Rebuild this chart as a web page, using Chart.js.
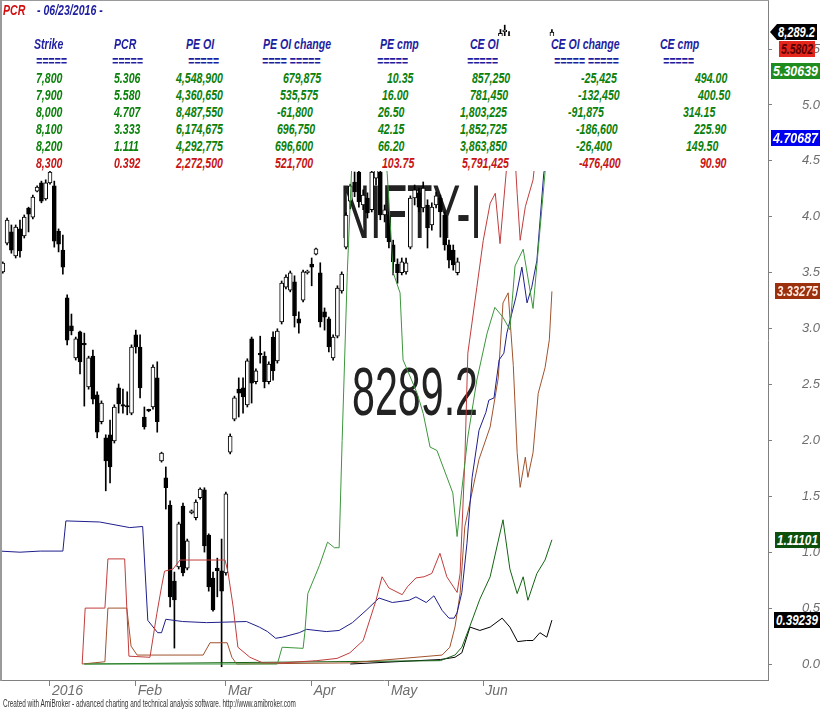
<!DOCTYPE html>
<html>
<head>
<meta charset="utf-8">
<title>PCR - NIFTY-I</title>
<script src="https://cdn.jsdelivr.net/npm/chart.js@4.4.1/dist/chart.umd.min.js"></script>
<style>
html,body{margin:0;padding:0;background:#fff;}
#wrap{position:relative;width:820px;height:711px;overflow:hidden;background:#fff;}
#chart{position:absolute;left:0;top:0;}
.wm{position:absolute;white-space:nowrap;font-family:'Liberation Sans',Arial,sans-serif;color:#222;line-height:1;transform-origin:0 0;}
#mask{position:absolute;left:2px;top:36px;width:766px;height:135px;background:#fff;}
.tx{position:absolute;white-space:nowrap;font-family:'Liberation Sans Narrow','Arial Narrow','Liberation Sans',sans-serif;font-weight:bold;font-style:italic;font-size:14px;line-height:14px;transform-origin:0 50%;}
.badge{position:absolute;height:16px;line-height:16px;overflow:hidden;white-space:nowrap;box-sizing:border-box;}
.badge span{display:inline-block;font-family:'Liberation Sans Narrow','Arial Narrow','Liberation Sans',sans-serif;font-weight:bold;font-style:italic;font-size:15px;transform-origin:0 50%;}
#frameL{position:absolute;left:0;top:0;width:2px;height:681px;background:#9a9a9a;}
#frameT{position:absolute;left:0;top:0;width:769px;height:1px;background:#9a9a9a;}
#footer{position:absolute;left:3px;top:699px;white-space:nowrap;font-family:'Liberation Sans Narrow','Arial Narrow','Liberation Sans',sans-serif;font-size:10px;line-height:10px;color:#333;transform-origin:0 0;}
</style>
</head>
<body>
<div id="wrap">
  <div id="wm1" class="wm">NIFTY-I</div>
  <div id="wm2" class="wm">8289.2</div>
  <canvas id="chart" width="820" height="711"></canvas>
  <div id="mask"></div>
  <div id="table"></div>
  <div id="badges"></div>
  <div id="frameL"></div>
  <div id="frameT"></div>
  <div id="footer">Created with AmiBroker - advanced charting and technical analysis software. http://www.amibroker.com</div>
</div>
<script>
// ---------------- DATA ----------------
const reportDate = '06/23/2016';
const symbolName = 'NIFTY-I';
const lastPrice = 8289.2;

// option table
const strikes    = [7800, 7900, 8000, 8100, 8200, 8300];
const pcrTable   = [5.306, 5.580, 4.707, 3.333, 1.111, 0.392];
const peOI       = [4548900, 4360650, 8487550, 6174675, 4292775, 2272500];
const peOIChange = [679875, 535575, -61800, 696750, 696600, 521700];
const peCmp      = [10.35, 16.00, 26.50, 42.15, 66.20, 103.75];
const ceOI       = [857250, 781450, 1803225, 1852725, 3863850, 5791425];
const ceOIChange = [-25425, -132450, -91875, -186600, -26400, -476400];
const ceCmp      = [494.00, 400.50, 314.15, 225.90, 149.50, 90.90];
const lastPcr    = [5.30639, 5.5802, 4.70687, 3.33275, 1.11101, 0.39239];

// x axis: trading-day index (0 = 1 Jan 2016)
const monthTickDays = [0, 20, 41, 61, 79, 101];
const monthLabels   = ['2016', 'Feb', 'Mar', 'Apr', 'May', 'Jun'];
const pcrTicks = [0, 0.5, 1, 1.5, 2, 2.5, 3, 3.5, 4, 4.5, 5, 5.5];

// NIFTY-I candles
const candleDay = [
 -11,-10,-9,-8,-7,-6,-5,-4,-3,-2,
 -1,0,1,2,3,4,5,6,7,8,
 9,10,11,12,13,14,15,16,17,18,
 19,20,21,22,23,24,25,26,27,28,
 29,30,31,32,33,34,35,36,37,38,
 39,40,41,42,43,44,45,46,47,48,
 49,50,51,52,53,54,55,56,57,58,
 59,60,61,62,63,64,65,66,67,68,
 69,70,71,72,73,74,75,76,77,78,
 79,80,81,82,83,84,85,86,87,88,
 89,90,91,92,93,94,95,
 101,102,103,104,105,106,107,108,109,110,
 111,112,113,114,115,116,117];
const candleOpen = [
 7737,7803,7829,7774,7836,7820,7884,7863,7923,7942,
 7905,7942,7935,7831,7787,7677,7613,7539,7599,7571,
 7472,7543,7454,7392,7355,7362,7348,7470,7431,7428,
 7412,7592,7564,7403,7419,7426,7493,7302,7263,7200,
 7025,7058,7198,7055,7182,7171,7217,7235,7131,7032,
 7055,7049,7044,7322,7398,7467,7470,7431,7583,7484,
 7548,7543,7484,7587,7532,7622,7702,7695,7714,7629,
 7672,7735,7755,7778,7735,7645,7629,7539,7589,7693,
 7794,7900,7944,7967,7891,7907,7880,7953,7967,7868,
 7868,7799,7755,7735,7737,7794,7907,7919,7884,7891,
 7845,7891,7907,7868,7799,7787,7735,
 8180,8190,8250,8240,8230,8290,8280,8200,8130,8120,
 8140,8210,8180,8090,8250,8240,8220];
const candleHigh = [
 7760,7861,7845,7845,7856,7868,7886,7914,7935,7946,
 7949,7972,7946,7836,7822,7684,7640,7587,7601,7596,
 7543,7557,7461,7440,7362,7396,7431,7479,7467,7461,
 7569,7603,7592,7426,7421,7523,7530,7322,7288,7210,
 7046,7161,7205,7122,7189,7212,7240,7240,7134,7046,
 7078,7122,7230,7364,7451,7493,7493,7537,7587,7514,
 7589,7553,7530,7599,7606,7716,7730,7739,7728,7645,
 7741,7741,7769,7792,7758,7654,7633,7592,7705,7737,
 7873,7939,7967,7972,7926,7919,7976,7983,7976,7891,
 7875,7810,7767,7769,7769,7912,7937,7930,7944,7903,
 7896,7921,7914,7875,7810,7799,7769,
 8230,8240,8270,8250,8295,8305,8290,8220,8150,8150,
 8230,8230,8210,8260,8270,8260,8295];
const candleLow = [
 7734,7799,7780,7769,7771,7815,7829,7859,7921,7896,
 7902,7939,7794,7783,7732,7569,7592,7534,7502,7428,
 7467,7433,7355,7387,7233,7251,7343,7412,7412,7408,
 7408,7550,7447,7375,7415,7421,7368,7299,7191,6966,
 6871,7053,7037,7051,7180,7166,7214,7092,7002,6956,
 6989,6828,7039,7318,7394,7403,7412,7426,7435,7479,
 7527,7470,7479,7488,7527,7617,7698,7691,7610,7596,
 7668,7732,7705,7776,7610,7603,7553,7534,7585,7688,
 7790,7882,7910,7886,7880,7861,7875,7937,7857,7852,
 7792,7730,7711,7730,7732,7790,7891,7875,7875,7792,
 7833,7884,7817,7787,7746,7741,7730,
 8160,8170,8215,8200,8225,8265,8210,8170,8100,8100,
 8130,8130,8160,8080,8220,8200,8215];
const candleClose = [
 7757,7856,7787,7840,7785,7863,7870,7909,7932,7900,
 7942,7967,7808,7801,7748,7580,7601,7583,7530,7569,
 7539,7444,7368,7435,7302,7288,7426,7433,7428,7426,
 7564,7564,7470,7380,7417,7518,7392,7320,7240,6989,
 6982,7157,7044,7118,7187,7207,7237,7106,7012,6959,
 7049,7002,7226,7359,7447,7458,7449,7532,7481,7509,
 7546,7484,7525,7509,7601,7711,7725,7735,7636,7619,
 7737,7739,7748,7790,7622,7633,7564,7587,7700,7732,
 7868,7935,7921,7898,7914,7873,7967,7976,7868,7880,
 7806,7760,7735,7760,7758,7907,7926,7886,7930,7838,
 7886,7912,7875,7799,7764,7753,7760,
 8200,8238,8240,8221,8286,8293,8223,8190,8130,8128,
 8226,8161,8190,8258,8239,8223,8289.2];

// PCR per strike: [trading-day index, PCR]
const pcr7800 = [[8,0],[53,0],[54.1,0.15],[59,0.14],[59.4,0.28],[60.1,0.63],[62.8,0.88],[64.7,1.09],[66.3,1.04],[67.4,1.04],[68.1,2.0],[69.3,3.5],[70.5,4.6],[72,4.9],[77,4.9],[78.6,4.39],[80,3.5],[81.6,3.32],[82.3,2.72],[85.6,2.42],[87,2.24],[88.6,1.94],[90.2,1.91],[93.9,1.53],[94.9,1.14],[96,1.56],[97.4,2.03],[99.5,2.54],[101.9,2.96],[103.7,3.19],[105.6,3.10],[107.2,2.99],[108.4,3.56],[110.3,3.71],[112.6,3.18],[115.4,4.4],[117,5.30639]];
const pcr7900 = [[7.5,0],[8.2,0.5],[12.8,0.5],[13.5,0.94],[17.4,0.94],[18.4,0.07],[23.3,0.06],[24.9,0.45],[26,0.69],[26.7,0.83],[28.7,0.85],[30.3,0.93],[40.8,0.93],[41.5,0.82],[42.7,0.51],[43.8,0.15],[46.6,0.06],[49.6,0.01],[54.3,0.01],[62.2,0.03],[66.9,0.05],[69.9,0.10],[73,0.21],[76,0.57],[77.4,0.78],[79,0.68],[82.1,0.62],[83.3,0.69],[85.3,0.77],[87.2,0.78],[89,0.81],[90.9,0.99],[92.5,0.78],[94.9,0.64],[95.6,0.81],[96.7,1.82],[97.4,2.78],[99.5,3.37],[101,3.79],[102.6,4.12],[103.8,4.21],[104.9,3.76],[106.8,4.6],[108,4.8],[108.9,4.21],[109.6,3.79],[110.8,4.09],[112.6,4.33],[114.2,4.9],[116,5.3],[117,5.5802]];
const pcr8000 = [[-11.7,1.01],[-7,1.0],[-2.3,1.01],[3,1.01],[3.7,1.28],[11.6,1.27],[18.6,1.22],[21.6,1.23],[22.8,0.39],[25.1,0.28],[26,0.28],[27,0.40],[30.9,0.38],[36.5,0.37],[45.8,0.38],[48.8,0.33],[50.7,0.29],[52.6,0.23],[54.2,0.24],[58.1,0.28],[59.8,0.31],[64.4,0.29],[67.4,0.30],[70.5,0.37],[73.7,0.48],[76.7,0.59],[79.8,0.55],[83.7,0.57],[85.3,0.60],[87.7,0.55],[89.5,0.61],[91.4,0.48],[93,0.41],[94.2,0.41],[94.9,0.46],[96,0.64],[97.2,1.08],[98.4,1.67],[100,2.09],[101.6,2.25],[102.3,2.36],[103.5,2.38],[104.7,2.72],[105.8,2.78],[106.5,2.96],[108.6,3.28],[110,3.55],[111.2,3.23],[112.3,3.37],[113.5,3.61],[115.1,4.39],[117,4.70687]];
const pcr8100 = [[7.5,0],[12.8,0.02],[13.5,0.5],[17.9,0.5],[18.9,0.16],[20.3,0.08],[35.7,0.08],[37.3,0.19],[41.3,0.19],[42.4,0.06],[43.5,0],[70,0.01],[91.4,0.08],[93.2,0.15],[94.4,0.33],[95.6,0.63],[96.7,1.23],[100,1.83],[102.6,2.12],[104.5,2.56],[105.6,3.23],[106.8,3.32],[108,2.67],[108.9,1.89],[109.6,1.58],[110.8,1.85],[111.4,1.67],[112.6,1.89],[113.8,2.42],[115.4,2.65],[116.4,2.9],[117,3.33275]];
const pcr8200 = [[8,0],[91,0.03],[94.4,0.08],[96,0.15],[97.9,0.34],[100.2,0.58],[102.6,0.78],[105.6,1.29],[107.2,0.85],[108.9,0.63],[110.3,0.78],[111.4,0.57],[113.5,0.81],[115.4,0.93],[117,1.11101]];
const pcr8300 = [[70,0],[91,0.04],[94.4,0.06],[96,0.10],[97.9,0.33],[100.2,0.30],[102.6,0.33],[105.4,0.41],[107.2,0.33],[109,0.20],[111.1,0.21],[112.6,0.21],[114.2,0.28],[115.8,0.24],[117,0.39239]];

// ---------------- STYLE / LAYOUT ----------------
const X_MIN = -11.655, X_MAX = 167.37;       // trading-day range of the plot
const PCR_MIN = -0.1431, PCR_MAX = 5.939;     // right axis range
const PRICE_MIN = 6797.5, PRICE_MAX = 8362.9; // hidden price axis range

const lineStyles = [
  {data: pcr7800, color: '#3c963c', badgeBg: '#1f8c1f', badgeFg: '#ffffff', bx: 3, bw: 49},
  {data: pcr7900, color: '#c23c3c', badgeBg: '#e4261c', badgeFg: '#5a0000', bx: 11, bw: 36},
  {data: pcr8000, color: '#1e1e8c', badgeBg: '#0000f0', badgeFg: '#ffffff', bx: 3, bw: 49},
  {data: pcr8100, color: '#a0522d', badgeBg: '#9c300c', badgeFg: '#ffe8e0', bx: 7, bw: 45},
  {data: pcr8200, color: '#146414', badgeBg: '#0c500c', badgeFg: '#ffffff', bx: 7, bw: 45},
  {data: pcr8300, color: '#000000', badgeBg: '#000000', badgeFg: '#ffffff', bx: 6, bw: 46}
];
const NARROW = "'Liberation Sans Narrow','Arial Narrow','Liberation Sans',sans-serif";
const AXISFONT = "'Liberation Sans',Arial,sans-serif";

// ---------------- TABLE (HTML text) ----------------
const fmtInt = v => v.toLocaleString('en-US');
const fmt2 = v => v.toFixed(2);
const columns = [
  {head:'Strike',       eq:'=====',       hx:34,  ex:36,  vals: strikes.map(fmtInt),    xs:[36,36,36,36,36,36]},
  {head:'PCR',          eq:'=====',       hx:114, ex:112, vals: pcrTable.map(v=>v.toFixed(3)), xs:[114,114,114,114,114,114]},
  {head:'PE OI',        eq:'=====',       hx:186, ex:188, vals: peOI.map(fmtInt),       xs:[176,176,176,176,176,176]},
  {head:'PE OI change', eq:'==== =====',  hx:263, ex:262, vals: peOIChange.map(fmtInt), xs:[283,280,277,277,275,275]},
  {head:'PE cmp',       eq:'=====',       hx:380, ex:377, vals: peCmp.map(fmt2),        xs:[387,382,378,378,378,382]},
  {head:'CE OI',        eq:'=====',       hx:470, ex:467, vals: ceOI.map(fmtInt),       xs:[472,470,460,460,460,462]},
  {head:'CE OI change', eq:'===== =====', hx:551, ex:554, vals: ceOIChange.map(fmtInt), xs:[581,578,568,576,576,579]},
  {head:'CE cmp',       eq:'=====',       hx:660, ex:663, vals: ceCmp.map(fmt2),        xs:[695,698,683,694,686,700]}
];
const rowY = [78, 95, 112, 129, 146, 163];
const headY = 44, eqY = 61;
const blue = '#1e1ea0', green = '#0b800b', red = '#c81414';

const table = document.getElementById('table');
function addText(txt, x, yc, color, parent) {
  const s = document.createElement('div');
  s.className = 'tx';
  s.textContent = txt;
  s.style.left = x + 'px';
  s.style.top = (yc - 7) + 'px';
  s.style.color = color;
  (parent || table).appendChild(s);
  return s;
}
const allTx = [];
allTx.push(addText('PCR', 3, 10, '#d01010'));
allTx.push(addText('- ' + reportDate + ' -', 37, 10, blue));
columns.forEach(c => {
  allTx.push(addText(c.head, c.hx, headY, blue));
  allTx.push(addText(c.eq, c.ex, eqY, blue));
  c.vals.forEach((v, i) => allTx.push(addText(v, c.xs[i], rowY[i], i === 5 ? red : green)));
});
// condense the table font so that "4,548,900" is ~47px wide
let condense = 1;
(function(){
  const probe = addText(fmtInt(peOI[0]), 0, -100, '#000');
  const w = probe.getBoundingClientRect().width;
  probe.remove();
  condense = w > 0 ? 47 / w : 1;
  allTx.forEach(el => el.style.transform = 'scaleX(' + condense.toFixed(3) + ')');
})();

// watermark texts
function placeWm(id, txt, left, capTop, size, width) {
  const el = document.getElementById(id);
  el.textContent = txt;
  el.style.fontSize = size + 'px';
  el.style.left = left + 'px';
  el.style.top = (capTop - 0.1175 * size) + 'px';
  const w = el.getBoundingClientRect().width;
  el.style.transform = 'scaleX(' + (width / w).toFixed(3) + ')';
}
placeWm('wm1', symbolName, 340, 183, 76, 142);
placeWm('wm2', String(lastPrice), 352, 365, 69, 126);

(function(){
  const f = document.getElementById('footer');
  const w = f.getBoundingClientRect().width;
  f.style.transform = 'scaleX(' + (293 / w).toFixed(3) + ')';
})();

// ---------------- CHART ----------------
const bodyData = candleDay.map((d, i) => ({x: d, y: [candleOpen[i], candleClose[i]]}));
const wickData = candleDay.map((d, i) => ({x: d, y: [candleLow[i], candleHigh[i]]}));
const bodyFill = candleDay.map((d, i) => candleClose[i] >= candleOpen[i] ? '#ffffff' : '#000000');

const datasets = [];
lineStyles.forEach((s, k) => {
  datasets.push({
    type: 'line', label: String(strikes[k]),
    data: s.data.map(p => ({x: p[0], y: p[1]})),
    xAxisID: 'x', yAxisID: 'y',
    borderColor: s.color, borderWidth: 1, pointRadius: 0, tension: 0, fill: false,
    order: 0
  });
});
datasets.push({
  type: 'bar', label: 'body', data: bodyData, xAxisID: 'x', yAxisID: 'yp',
  backgroundColor: bodyFill, borderColor: '#000', borderWidth: 1, borderSkipped: false,
  barThickness: 4, grouped: false, minBarLength: 1.5, order: 1
});
datasets.push({
  type: 'bar', label: 'wick', data: wickData, xAxisID: 'x', yAxisID: 'yp',
  backgroundColor: '#000', borderWidth: 0, barThickness: 1, grouped: false, order: 2
});

// badges positioned from the scales
const badgeBox = document.getElementById('badges');
function makeBadge(text, bg, fg, left, width, top, arrow) {
  const d = document.createElement('div');
  d.className = 'badge';
  d.style.background = bg;
  d.style.left = left + 'px';
  d.style.width = width + 'px';
  d.style.top = Math.round(top) + 'px';
  const sp = document.createElement('span');
  sp.textContent = text;
  sp.style.color = fg;
  d.appendChild(sp);
  if (arrow) d.style.clipPath = 'polygon(7px 0, 100% 0, 100% 100%, 7px 100%, 0 50%)';
  badgeBox.appendChild(d);
  const pad = arrow ? 8 : 2;
  const avail = width - pad - 2;
  const w = sp.getBoundingClientRect().width;
  const s = Math.min(1, avail / w);
  sp.style.transform = 'translateX(' + pad + 'px) scaleX(' + s.toFixed(3) + ')';
}
const badgePlugin = {
  id: 'badges',
  afterRender(chart) {
    badgeBox.innerHTML = '';
    const ax = chart.chartArea.right;
    const items = [];
    items.push({y: chart.scales.yp.getPixelForValue(lastPrice), text: lastPrice.toLocaleString('en-US', {minimumFractionDigits: 1}), bg: '#000', fg: '#fff', bx: 2, bw: 47, arrow: true});
    lineStyles.forEach((s, k) => items.push({y: chart.scales.y.getPixelForValue(lastPcr[k]), text: String(lastPcr[k]), bg: s.badgeBg, fg: s.badgeFg, bx: s.bx, bw: s.bw}));
    items.sort((a, b) => a.y - b.y);
    let prev = -1e9;
    const h = 16;
    items.forEach(it => { it.top = Math.max(it.y - h / 2, prev + h + 1); prev = it.top; });
    items.forEach(it => makeBadge(it.text, it.bg, it.fg, ax + it.bx, it.bw, it.top, it.arrow));
  }
};

const chart = new Chart(document.getElementById('chart').getContext('2d'), {
  type: 'line',
  data: {datasets},
  plugins: [badgePlugin],
  options: {
    responsive: false, animation: false, devicePixelRatio: 1,
    layout: {padding: 0},
    plugins: {legend: {display: false}, tooltip: {enabled: false}, title: {display: false}},
    scales: {
      x: {
        type: 'linear', position: 'bottom', min: X_MIN, max: X_MAX, offset: false,
        afterBuildTicks: s => { s.ticks = monthTickDays.map(v => ({value: v})); },
        afterFit: s => { s.height = 31; s.paddingLeft = 0; s.paddingRight = 0; },
        grid: {offset: false, drawOnChartArea: false, drawTicks: true, tickLength: 6, tickColor: '#808080'},
        border: {display: true, color: '#808080', width: 1},
        ticks: {
          autoSkip: false, maxRotation: 0, minRotation: 0, align: 'start', padding: -2, labelOffset: 2,
          color: '#6e6e6e', font: {family: AXISFONT, size: 14, style: 'italic', lineHeight: 1},
          callback: v => monthLabels[monthTickDays.indexOf(v)]
        }
      },
      y: {
        type: 'linear', position: 'right', min: PCR_MIN, max: PCR_MAX,
        afterBuildTicks: s => { s.ticks = pcrTicks.map(v => ({value: v})); },
        afterFit: s => { s.width = 52; s.paddingTop = 0; s.paddingBottom = 0; },
        grid: {offset: false, drawOnChartArea: false, drawTicks: true, tickLength: 4, tickColor: '#808080'},
        border: {display: true, color: '#808080', width: 1},
        ticks: {
          padding: 30, crossAlign: 'near', color: '#6e6e6e',
          font: {family: AXISFONT, size: 13, style: 'italic', lineHeight: 1},
          callback: v => v.toFixed(1)
        }
      },
      yp: {type: 'linear', display: false, min: PRICE_MIN, max: PRICE_MAX}
    }
  }
});
</script>
</body>
</html>
